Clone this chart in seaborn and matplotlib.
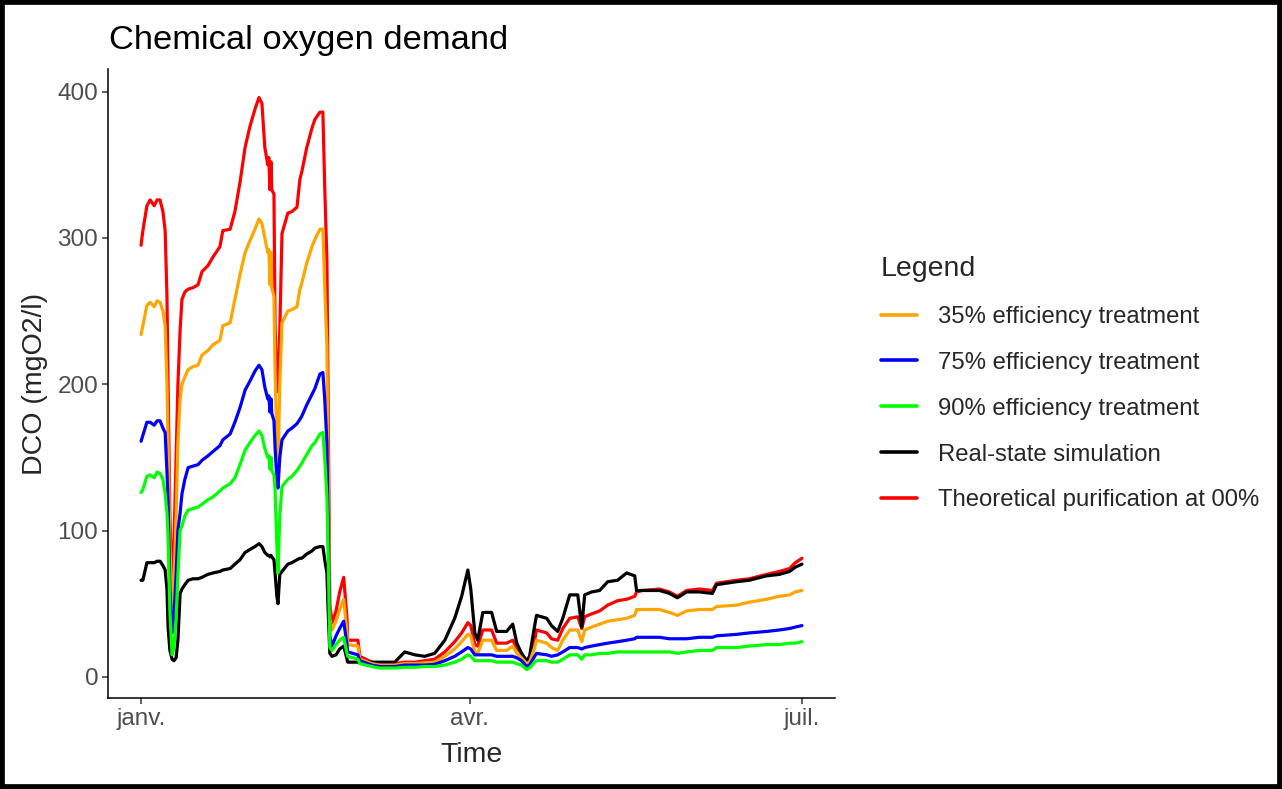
import numpy as np
import pandas as pd
import matplotlib
matplotlib.use("Agg")
import matplotlib.pyplot as plt
from matplotlib.patches import Rectangle
import seaborn as sns

# ---- data: days since 1 January, daily-ish COD simulation (mgO2/l) ----
start = pd.Timestamp("2019-01-01")
day = [0, 0.5, 1.6, 2.5, 3.6, 4.4, 5.2, 6.0, 6.6, 7.1, 7.4, 7.9, 8.5, 9.0, 9.6,
       10.1, 10.7, 11.2, 12.0, 12.9, 14.2, 15.6, 16.7, 18.3, 19.7, 21.6, 22.4,
       24.4, 25.7, 27.1, 28.5, 29.8, 31.2, 32.3, 33.1, 33.9, 34.7, 35.0, 35.3,
       35.6, 35.8, 36.4, 36.7, 37.2, 37.5, 38.0, 38.6, 40.2, 41.3, 42.7, 43.5,
       44.0, 45.4, 46.8, 47.6, 49.0, 49.8, 50.3, 50.9, 51.2, 51.7, 52.3, 53.4,
       54.4, 55.5, 56.4, 56.6, 59.4, 59.9, 63.2, 65.4, 69.5, 72.2, 75.0, 77.7,
       80.4, 83.2, 85.9, 87.8, 89.5, 90.3, 91.4, 92.2, 93.6, 96.0, 97.4, 100.1,
       101.8, 102.9, 104.2, 105.6, 106.4, 107.8, 108.3, 111.1, 112.4, 114.1,
       115.5, 117.4, 119.6, 120.7, 121.5, 123.4, 125.6, 127.8, 130.5, 133.0,
       135.2, 135.7, 137.3, 142.0, 144.7, 146.9, 149.4, 152.9, 156.5, 157.6,
       163.1, 166.6, 171.3, 174.8, 177.6, 179.2, 181.0]

theoretical = [295, 305, 322, 326, 322, 326, 326, 318, 305, 260, 200, 110, 65, 90, 150,
               200, 237, 258, 263, 265, 266, 268, 277, 281, 287, 294, 305,
               306, 318, 338, 362, 376, 388, 396, 392, 362, 350, 355, 333,
               352, 333, 330, 240, 200, 195, 237, 303, 317, 318, 321, 340,
               345, 362, 375, 381, 386, 386, 335, 285, 200, 50, 37, 45,
               58, 68, 40, 25, 25, 14, 10, 9, 9, 10, 10, 11,
               12, 17, 24, 30, 37, 35, 22, 21, 32, 32, 23, 23,
               25, 20, 16, 10, 12, 25, 32, 30, 26, 25,
               33, 40, 41, 33, 41, 43, 45, 49, 52, 53,
               55, 58, 59, 60, 58, 55, 59, 60, 59, 64,
               66, 67, 70, 72, 74, 78, 81]

eff35 = [234, 240, 254, 256, 253, 257, 256, 250, 240, 200, 160, 90, 48, 60, 110,
         160, 190, 200, 205, 210, 212, 213, 220, 223, 227, 230, 240,
         242, 258, 275, 290, 298, 306, 313, 310, 300, 290, 292, 268,
         290, 266, 260, 210, 160, 140, 200, 242, 250, 251, 253, 265,
         269, 283, 294, 299, 306, 306, 267, 226, 150, 40, 32, 38,
         46, 53, 30, 22, 21, 12, 9, 8, 8, 9, 9, 9.5,
         10, 14, 19, 24, 29, 28, 17, 16, 25, 25, 18, 18,
         21, 16, 13, 9, 10, 20, 25, 23, 20, 18,
         25, 32, 32, 24, 32, 34, 36, 38, 39, 40,
         42, 46, 46, 46, 44, 42, 45, 46, 46, 48,
         49, 51, 53, 55, 56, 58, 59]

eff75 = [161, 165, 174, 174, 172, 175, 175, 170, 167, 140, 120, 60, 30, 40, 70,
         100, 112, 125, 135, 143, 144, 145, 148, 151, 154, 158, 162,
         166, 174, 184, 196, 202, 209, 213, 210, 198, 190, 192, 181,
         190, 180, 175, 157, 135, 129, 150, 162, 168, 170, 173, 176,
         178, 186, 193, 197, 207, 208, 190, 160, 110, 28, 21, 28,
         33, 38, 22, 17, 15, 11, 8, 7, 7, 8, 8, 8,
         8.5, 11, 14, 17, 20, 19, 15, 15, 15, 15, 14, 14,
         14, 13, 11, 7, 8, 14, 16, 15, 14, 15,
         17, 20, 20, 19, 20, 21, 22, 23, 24, 25,
         26, 27, 27, 27, 26, 26, 26, 27, 27, 28,
         29, 30, 31, 32, 33, 34, 35]

eff90 = [126, 128, 137, 138, 136, 140, 139, 135, 125, 112, 95, 45, 15, 20, 40,
         70, 100, 103, 110, 114, 115, 116, 118, 121, 123, 127, 129,
         132, 136, 145, 155, 160, 165, 168, 165, 156, 150, 151, 142,
         150, 141, 138, 128, 90, 71, 110, 130, 135, 137, 141, 144,
         146, 152, 158, 160, 166, 167, 150, 123, 90, 20, 18, 22,
         25, 27, 16, 14, 12, 9, 7, 6, 6, 6.5, 6.5, 7,
         7, 8, 10, 12, 15, 14, 11, 11, 11, 11, 10, 10,
         10, 9, 8, 5, 6, 10, 11, 11, 10, 10,
         12, 15, 15, 12, 15, 15, 16, 16, 17, 17,
         17, 17, 17, 17, 17, 16, 17, 18, 18, 20,
         20, 21, 22, 22, 23, 23, 24]

real_state = [66, 66, 78, 78, 78, 79, 79, 76, 73, 60, 34, 18, 12, 11, 13,
              25, 57, 60, 63, 66, 67, 67, 68, 70, 71, 72, 73,
              74, 77, 80, 85, 87, 89, 91, 89, 85, 83, 83, 82,
              83, 82, 80, 71, 55, 50, 70, 72, 77, 78, 80, 81,
              81, 84, 86, 88, 89, 89, 80, 71, 48, 16, 14, 15,
              19, 21, 12, 10, 10, 10, 10, 10, 10, 17, 15, 14,
              16, 25, 40, 55, 73, 60, 30, 25, 44, 44, 31, 31,
              36, 23, 16, 11, 14, 35, 42, 40, 35, 31,
              40, 56, 56, 34, 56, 58, 59, 65, 66, 71,
              69, 59, 59, 59, 57, 54, 58, 58, 57, 63,
              65, 66, 69, 70, 72, 75, 77]

series_names = ["35% efficiency treatment", "75% efficiency treatment",
                "90% efficiency treatment", "Real-state simulation",
                "Theoretical purification at 00%"]
series_values = [eff35, eff75, eff90, real_state, theoretical]
series_colors = ["#FFA500", "#0000FF", "#00FF00", "#000000", "#FF0000"]

x_ticks = ["2019-01-01", "2019-04-01", "2019-07-01"]
x_tick_labels = ["janv.", "avr.", "juil."]
y_ticks = [0, 100, 200, 300, 400]

# ---- long-form table ----
dates = start + pd.to_timedelta(day, unit="D")
frames = [pd.DataFrame({"date": dates, "value": vals, "series": name})
          for name, vals in zip(series_names, series_values)]
df = pd.concat(frames, ignore_index=True)
palette = dict(zip(series_names, series_colors))

# ---- style ----
sns.set_style("ticks")
plt.rcParams["font.family"] = ["Liberation Sans", "DejaVu Sans"]

fig = plt.figure(figsize=(12.82, 7.89), dpi=100)
ax = fig.add_axes([108 / 1282, 1 - 698 / 789, 727 / 1282, 629 / 789])

draw_order = ["Theoretical purification at 00%", "Real-state simulation",
              "35% efficiency treatment", "75% efficiency treatment",
              "90% efficiency treatment"]
for name in draw_order:
    sns.lineplot(data=df[df["series"] == name], x="date", y="value",
                 color=palette[name], linewidth=2.3, estimator=None,
                 sort=False, ax=ax, label=name)

# axes limits with 5 % padding
span = 181.0
ax.set_xlim(start - pd.Timedelta(days=0.05 * span),
            start + pd.Timedelta(days=1.05 * span))
ax.set_ylim(-14.5, 415.5)

ax.set_xticks(pd.to_datetime(x_ticks))
ax.set_xticklabels(x_tick_labels)
ax.set_yticks(y_ticks)
ax.tick_params(axis="both", direction="out", length=4, width=1.1,
               color="#333333", labelcolor="#4D4D4D", labelsize=17.5, pad=3)

sns.despine(ax=ax)
for side in ("left", "bottom"):
    ax.spines[side].set_linewidth(1.1)
    ax.spines[side].set_color("black")

ax.set_xlabel("Time", fontsize=20.5, va="center")
ax.set_ylabel("DCO (mgO2/l)", fontsize=20.5, va="center")
ax.xaxis.set_label_coords(0.5, -0.0906)
ax.yaxis.set_label_coords(-0.1004, 0.5)

fig.text(109 / 1282, 1 - 49 / 789, "Chemical oxygen demand",
         fontsize=24.8, ha="left", va="baseline", color="black")

# legend in alphabetical order
handles, labels = ax.get_legend_handles_labels()
lookup = dict(zip(labels, handles))
if ax.get_legend():
    ax.get_legend().remove()
leg = ax.legend([lookup[n] for n in series_names], series_names,
                loc="upper left", bbox_to_anchor=(881 / 1282, 1 - 256 / 789),
                bbox_transform=fig.transFigure, frameon=False,
                title="Legend", title_fontsize=20.5, fontsize=17.2,
                handlelength=1.5, handletextpad=0.9, labelspacing=1.0,
                borderpad=0, borderaxespad=0, alignment="left")
for line in leg.get_lines():
    line.set_linewidth(2.6)

# outer frame
fig.patches.append(Rectangle((0, 0), 1, 1, transform=fig.transFigure,
                             fill=False, edgecolor="black", linewidth=7,
                             zorder=10))

fig.savefig("out.png", dpi=100)
